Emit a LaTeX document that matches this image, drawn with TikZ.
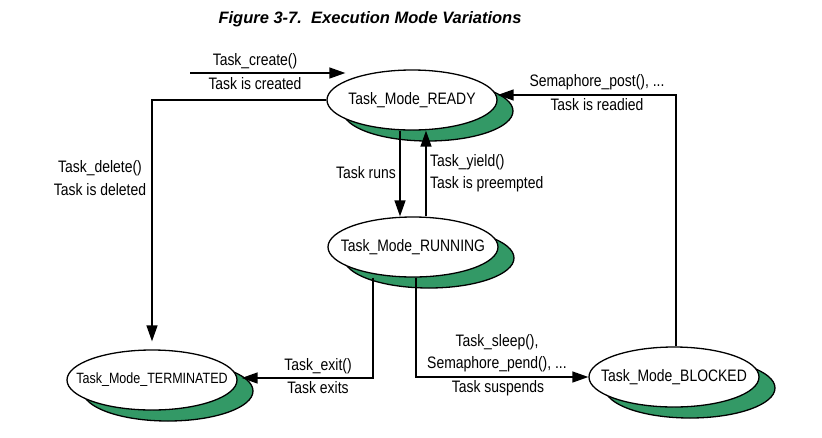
\documentclass[tikz,border=0pt]{standalone}
\usepackage{fontspec}
\setmainfont{Liberation Sans}[FakeStretch=0.84]
\newfontfamily\titlefont{Liberation Sans}
\usetikzlibrary{positioning, shapes.geometric, shadows, arrows.meta}
\definecolor{modegreen}{RGB}{51,153,102}

\begin{document}
\begin{tikzpicture}[x=1pt, y=-1pt, font=\fontsize{16.6}{19}\selectfont,
    modebox/.style={ellipse, draw, line width=1.3pt, fill=white, inner sep=0pt,
      minimum width=170pt, minimum height=60pt,
      copy shadow={draw, fill=modegreen, shadow xshift=16pt, shadow yshift=-11pt}},
    arr/.style={-{Triangle[length=16pt, width=11pt]}, line width=1.4pt}]
    \useasboundingbox (0,0) rectangle (822,437);

    % Title
    \node (title) at (370,19) {\titlefont\fontsize{16.5}{19}\selectfont\bfseries\itshape Figure 3-7.\ \ Execution Mode Variations};

    % Draw the modes
    \foreach \n/\x/\y/\m/\s in {ready/412/100/READY/16.6, running/413/247/RUNNING/16.6, terminated/152/380/TERMINATED/14.9, blocked/674/377/BLOCKED/16.6} {
      \node[modebox] (\n) at (\x,\y) {\makebox[0pt]{\fontsize{\s}{19}\selectfont Task\_Mode\_\m}};
    }

    % Draw transitions
    \coordinate (create) at (190,73);
    \draw[arr] (create) -- ([xshift=19pt]create -| ready.west);
    \draw[arr, shorten >=8pt] (ready.west) -| (terminated.north);
    \draw[arr] ([xshift=-12pt]ready.south) -- ([xshift=-13pt]running.north);
    \draw[arr] ([xshift=13pt]running.north) -- ([xshift=14pt]ready.south);
    \draw[arr, shorten >=4pt] ([xshift=-40pt]running.south) |- ([yshift=2pt]terminated.east);
    \draw[arr] ([xshift=3pt]running.south) |- (blocked.west);
    \draw[arr] ([xshift=2pt]blocked.north) |- ([yshift=5pt]ready.east);

    % Transition labels
    \node (lcreate) at (255,61) {Task\_create()};
    \node (lcreated) at (255,84) {Task is created};
    \node (ldelete) at (100,168) {Task\_delete()};
    \node (ldeleted) at (100,190) {Task is deleted};
    \node (lruns) at (366,173) {Task runs};
    \node[anchor=west, inner sep=0pt] (lyield) at (430,162) {Task\_yield()};
    \node[anchor=west, inner sep=0pt] (lpreempt) at (430,184) {Task is preempted};
    \node (lexit) at (318,366) {Task\_exit()};
    \node (lexits) at (318,388) {Task exits};
    \node (lsleep) at (497,342) {Task\_sleep(),};
    \node (lpend) at (497,364) {Semaphore\_pend(), ...};
    \node (lsuspend) at (498,388) {Task suspends};
    \node (lpost) at (597,82) {Semaphore\_post(), ...};
    \node (lreadied) at (597,105) {Task is readied};

  \end{tikzpicture}
\end{document}
